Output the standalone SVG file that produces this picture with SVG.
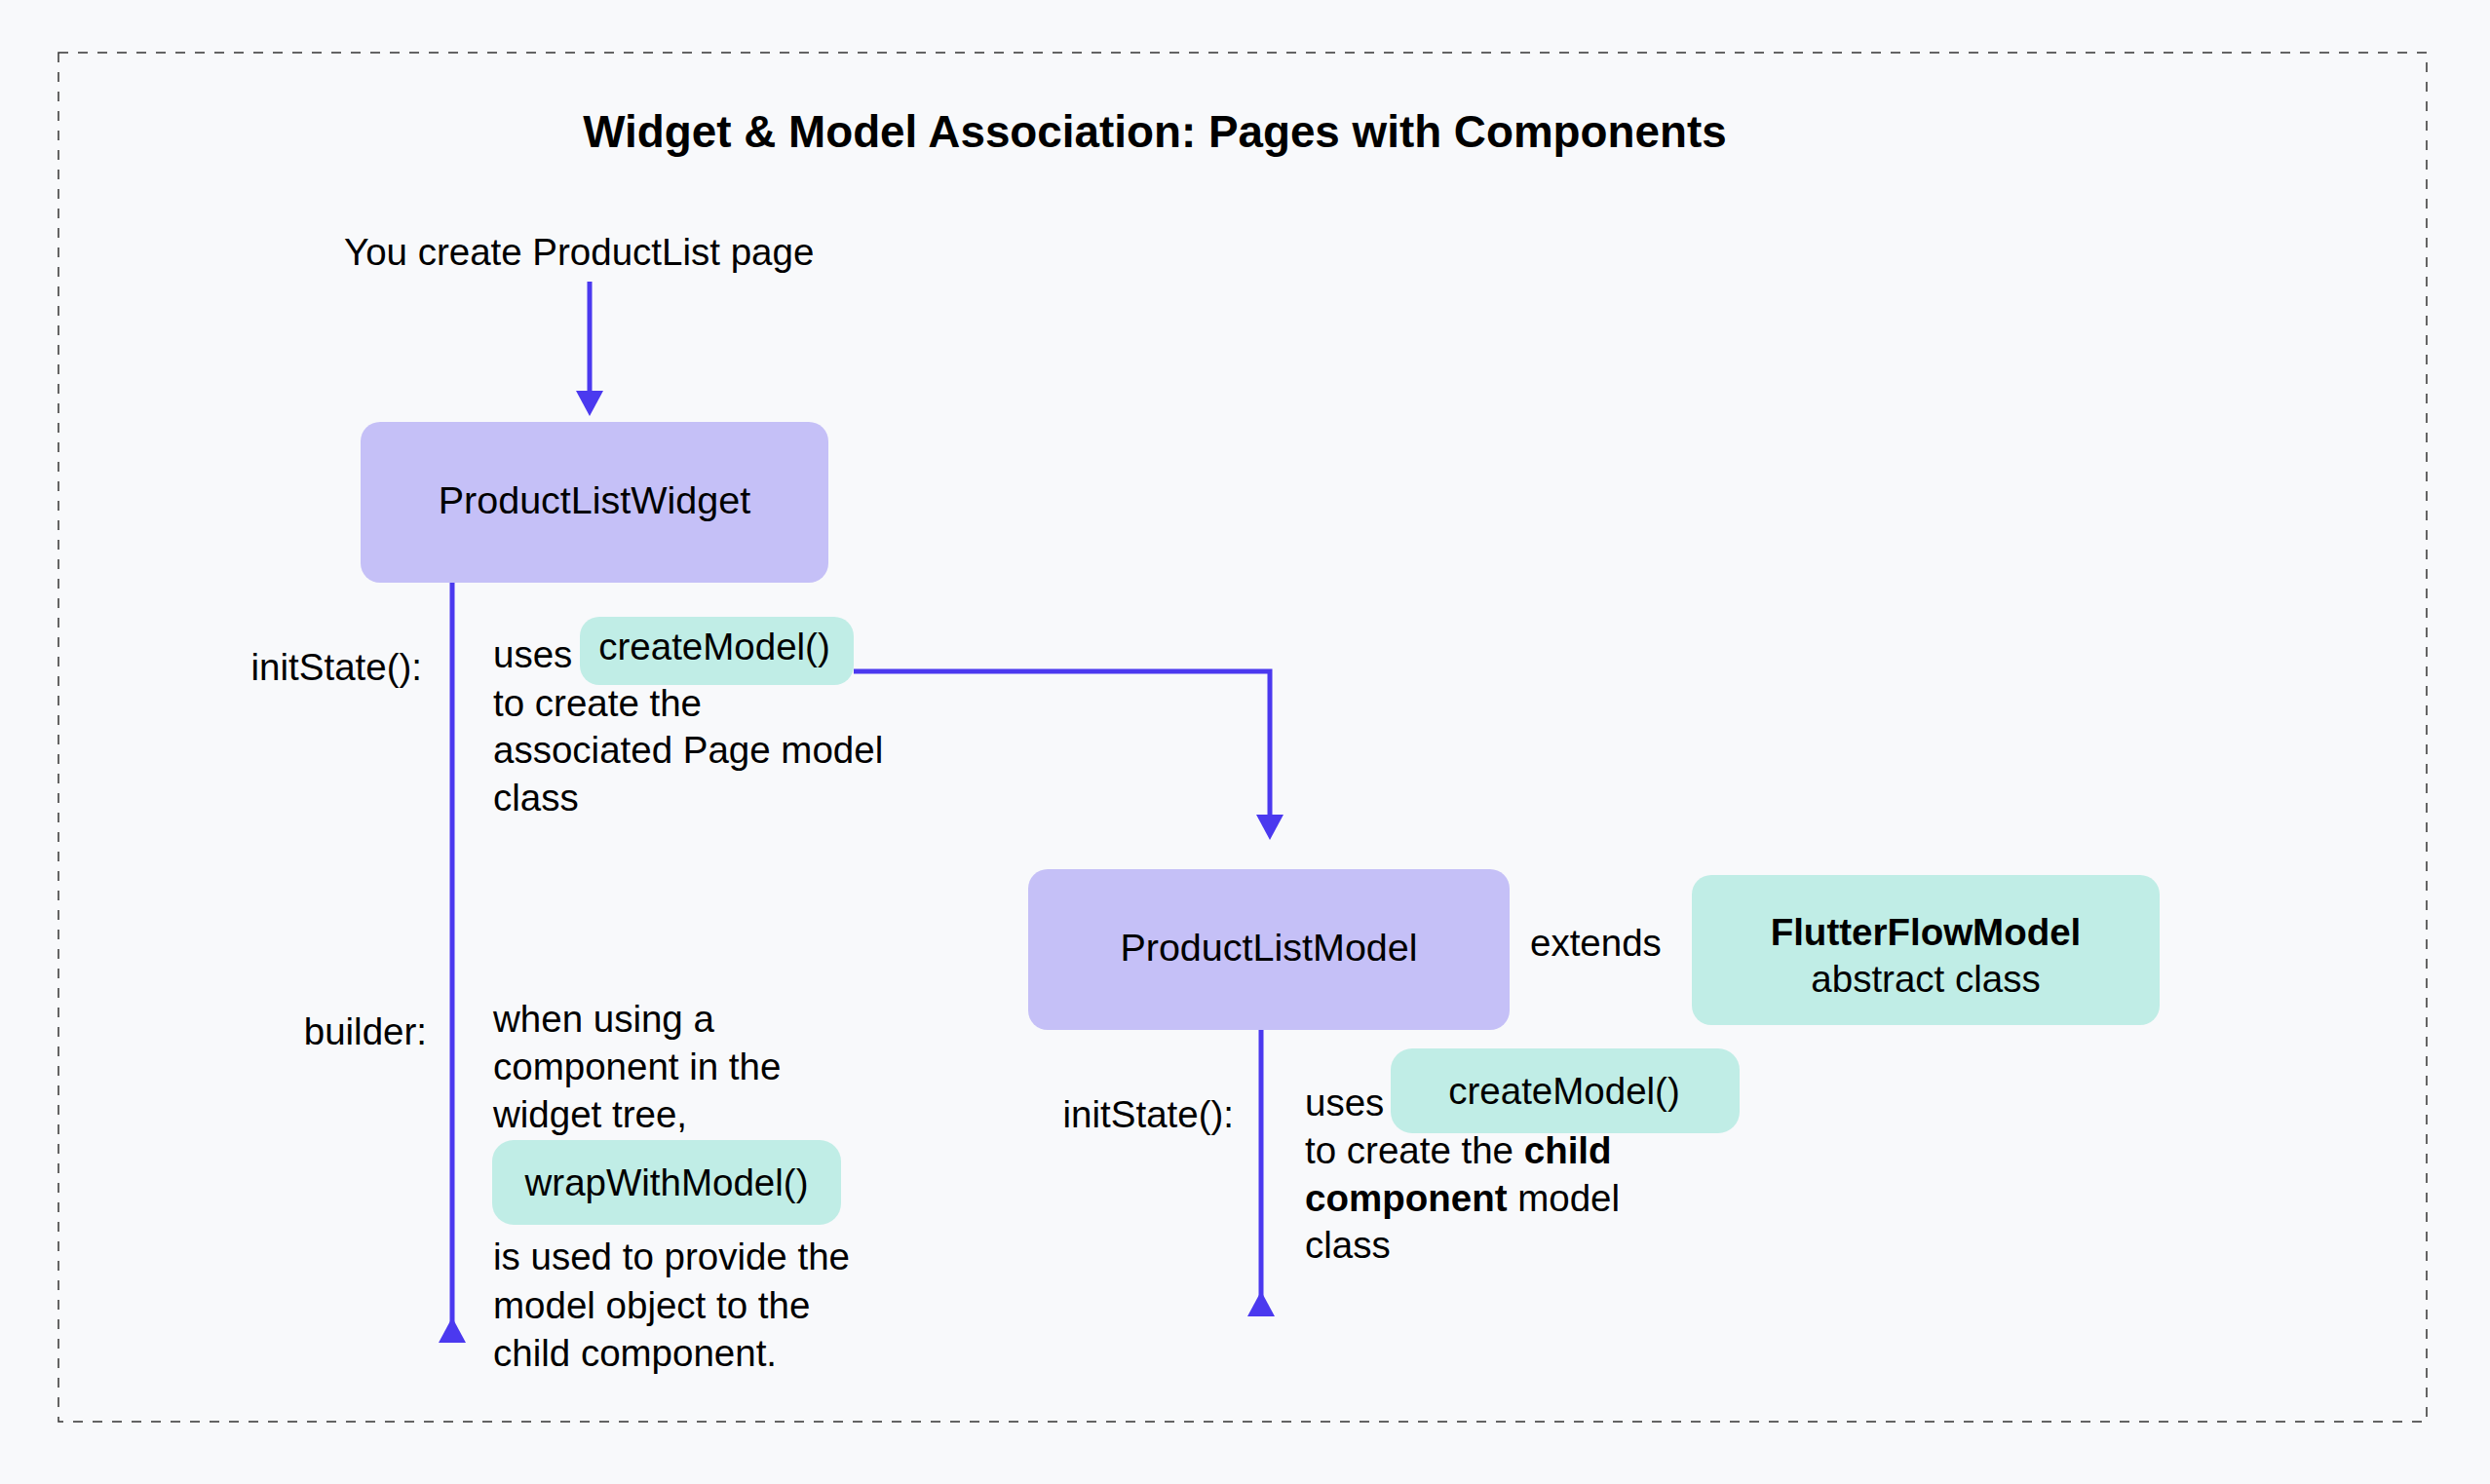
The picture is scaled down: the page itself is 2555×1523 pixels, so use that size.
<svg xmlns="http://www.w3.org/2000/svg" width="2555" height="1523" viewBox="0 0 2555 1523">
  <style>
    .t { font-family: "Liberation Sans", Arial, sans-serif; font-size: 38.5px; fill: #000; }
    .lg { font-size: 39.5px; }
    .b { font-weight: bold; }
    .title { font-family: "Liberation Sans", Arial, sans-serif; font-size: 45.8px; font-weight: bold; fill: #000; }
    .purple { fill: #C5C0F7; }
    .mint { fill: #C0EDE6; }
    .conn { fill: none; stroke: #4B39EF; stroke-width: 5; }
  </style>
  <defs>
    <marker id="arrow" markerUnits="userSpaceOnUse" markerWidth="26" markerHeight="28" refX="0" refY="14" orient="auto">
      <path d="M0,0 L26,14 L0,28 Z" fill="#4B39EF"/>
    </marker>
  </defs>
  <rect width="2555" height="1523" fill="#F8F9FB"/>
  <rect x="60" y="54" width="2430" height="1405" fill="none" stroke="#333" stroke-width="1.5" stroke-dasharray="10 10"/>
  <text class="title" x="1185" y="151" text-anchor="middle">Widget &amp; Model Association: Pages with Components</text>

  <g id="connectors">
    <path class="conn" d="M605,289 V401" marker-end="url(#arrow)"/>
    <path class="conn" d="M876,689 H1303 V836" marker-end="url(#arrow)"/>
    <path class="conn" d="M464,1378 V598" marker-start="url(#arrow)"/>
    <path class="conn" d="M1294,1351 V1057" marker-start="url(#arrow)"/>
  </g>

  <g id="start-label">
    <text class="t" x="353" y="272">You create ProductList page</text>
  </g>

  <g id="product-list-widget">
    <rect class="purple" x="370" y="433" width="480" height="165" rx="20"/>
    <text class="t lg" x="610" y="527" text-anchor="middle">ProductListWidget</text>
  </g>

  <g id="widget-initstate">
    <text class="t" x="433" y="698" text-anchor="end">initState():</text>
    <text class="t" x="506" y="685">uses</text>
    <rect class="mint" x="595" y="633" width="281" height="70" rx="20"/>
    <text class="t" x="733" y="677" text-anchor="middle">createModel()</text>
    <text class="t" x="506" y="735">to create the</text>
    <text class="t" x="506" y="783">associated Page model</text>
    <text class="t" x="506" y="832">class</text>
  </g>

  <g id="widget-builder">
    <text class="t" x="438" y="1072" text-anchor="end">builder:</text>
    <text class="t" x="506" y="1059">when using a</text>
    <text class="t" x="506" y="1108">component in the</text>
    <text class="t" x="506" y="1157">widget tree,</text>
    <rect class="mint" x="505" y="1170" width="358" height="87" rx="22"/>
    <text class="t" x="684" y="1227" text-anchor="middle">wrapWithModel()</text>
    <text class="t" x="506" y="1303">is used to provide the</text>
    <text class="t" x="506" y="1353">model object to the</text>
    <text class="t" x="506" y="1402">child component.</text>
  </g>

  <g id="product-list-model">
    <rect class="purple" x="1055" y="892" width="494" height="165" rx="20"/>
    <text class="t lg" x="1302" y="986" text-anchor="middle">ProductListModel</text>
  </g>

  <g id="extends-label">
    <text class="t" x="1570" y="981">extends</text>
  </g>

  <g id="flutterflow-model">
    <rect class="mint" x="1736" y="898" width="480" height="154" rx="20"/>
    <text class="t b" x="1976" y="970" text-anchor="middle">FlutterFlowModel</text>
    <text class="t" x="1976" y="1018" text-anchor="middle">abstract class</text>
  </g>

  <g id="model-initstate">
    <text class="t" x="1266" y="1157" text-anchor="end">initState():</text>
    <text class="t" x="1339" y="1145">uses</text>
    <rect class="mint" x="1427" y="1076" width="358" height="87" rx="22"/>
    <text class="t" x="1605" y="1133" text-anchor="middle">createModel()</text>
    <text class="t" x="1339" y="1194">to create the <tspan class="b">child</tspan></text>
    <text class="t" x="1339" y="1243"><tspan class="b">component</tspan> model</text>
    <text class="t" x="1339" y="1291">class</text>
  </g>
</svg>
